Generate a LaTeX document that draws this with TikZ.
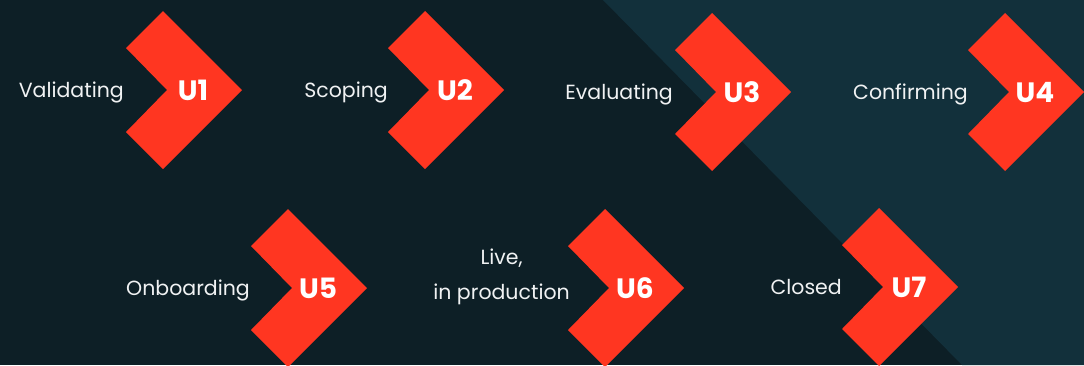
\documentclass[tikz,border=0pt]{standalone}
\usepackage{fontspec}
\setmainfont{Poppins}
\usetikzlibrary{calc}

\definecolor{bgdark}{HTML}{0D1F26}
\definecolor{bglight}{HTML}{12303B}
\definecolor{chevred}{HTML}{FF3621}
\definecolor{labelwhite}{HTML}{F0F2F3}

\tikzset{
  chevron/.pic={
    \fill[chevred] (0,0) -- (-79,-79) -- (-116,-42) -- (-75,0)
                   -- (-116,42) -- (-79,79) -- cycle;
  },
  codelabel/.style={text=white, font=\fontsize{28}{30}\selectfont\bfseries,
                    inner sep=0pt, anchor=base},
  stagetext/.style={text=labelwhite, font=\fontsize{20.5}{35}\selectfont,
                    inner sep=0pt, anchor=base east},
}

\begin{document}
\begin{tikzpicture}[x=1pt, y=-1pt]
  % background: dark field with a lighter diagonal band on the right
  \useasboundingbox (0,0) rectangle (1084,365);
  \fill[bgdark] (0,0) rectangle (1084,365);
  \fill[bglight] (603,0) -- (1084,0) -- (1084,365) -- (962,365) -- cycle;

  % tips of the chevrons
  \coordinate (t1) at (242,90);
  \coordinate (t2) at (504,90);
  \coordinate (t3) at (791,92);
  \coordinate (t4) at (1084,92);
  \coordinate (t5) at (367,288);
  \coordinate (t6) at (684,288);
  \coordinate (t7) at (958,287);

  \foreach \i in {1,...,7} { \pic at (t\i) {chevron}; }

  % stage codes
  \node[codelabel] (u1) at ($(t1)+(-49,10)$) {U1};
  \node[codelabel] (u2) at ($(t2)+(-49,10)$) {U2};
  \node[codelabel] (u3) at ($(t3)+(-49,10)$) {U3};
  \node[codelabel] (u4) at ($(t4)+(-49,10)$) {U4};
  \node[codelabel] (u5) at ($(t5)+(-49,10)$) {U5};
  \node[codelabel] (u6) at ($(t6)+(-49,10)$) {U6};
  \node[codelabel] (u7) at ($(t7)+(-49,10)$) {U7};

  % stage names
  \node[stagetext] (s1) at ($(t1)+(-118,7)$) {Validating};
  \node[stagetext] (s2) at ($(t2)+(-116,7)$) {Scoping};
  \node[stagetext] (s3) at ($(t3)+(-118,7)$) {Evaluating};
  \node[stagetext] (s4) at ($(t4)+(-116,7)$) {Confirming};
  \node[stagetext] (s5) at ($(t5)+(-117,7)$) {Onboarding};
  \node[stagetext, anchor=east, align=center] (s6) at ($(t6)+(-114,-11)$) {Live,\\in production};
  \node[stagetext] (s7) at ($(t7)+(-116,7)$) {Closed};
\end{tikzpicture}
\end{document}
